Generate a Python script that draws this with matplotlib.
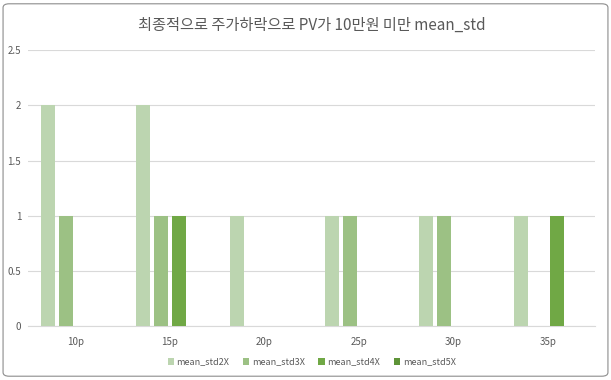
import numpy as np
import matplotlib.pyplot as plt
from matplotlib.patches import FancyBboxPatch

plt.rcParams['font.family'] = ['Noto Sans CJK KR', 'DejaVu Sans']

categories = ['10p', '15p', '20p', '25p', '30p', '35p']
series_names = ['mean_std2X', 'mean_std3X', 'mean_std4X', 'mean_std5X']
std2x = [2, 2, 1, 1, 1, 1]
std3x = [1, 1, 0, 1, 1, 0]
std4x = [0, 1, 0, 0, 0, 1]
std5x = [0, 0, 0, 0, 0, 0]
colors = ['#bcd5b0', '#9cc184', '#70a845', '#5e9438']

fig = plt.figure(figsize=(6.11, 3.80), dpi=100)
ax = fig.add_axes([0.046, 0.142, 0.928, 0.726])

x = np.arange(len(categories))
step = 0.19
width = 0.148
for i, (vals, name) in enumerate(zip([std2x, std3x, std4x, std5x], series_names)):
    ax.bar(x + (i - 1.5) * step, vals, width, color=colors[i], label=name, zorder=3)

ax.set_xlim(-0.5, len(categories) - 0.5)
ax.set_ylim(0, 2.5)
ax.set_yticks([0, 0.5, 1, 1.5, 2, 2.5])
ax.set_yticklabels(['0', '0.5', '1', '1.5', '2', '2.5'])
ax.set_xticks(x)
ax.set_xticklabels(categories)
ax.grid(axis='y', color='#d9d9d9', linewidth=0.8, zorder=0)
for s in ['top', 'right', 'left']:
    ax.spines[s].set_visible(False)
ax.spines['bottom'].set_color('#d9d9d9')
ax.tick_params(axis='both', length=0, labelsize=7, colors='#595959', pad=8)
ax.tick_params(axis='y', pad=5)

ax.set_title('최종적으로 주가하락으로 PV가 10만원 미만 mean_std', fontsize=11,
             color='#595959', pad=15)

ax.legend(loc='upper center', bbox_to_anchor=(0.5, -0.085), ncol=4, frameon=False,
          fontsize=6.5, handlelength=0.7, handleheight=0.7, columnspacing=1.5,
          handletextpad=0.3, labelcolor='#595959')

frame = FancyBboxPatch((0.005, 0.01), 0.99, 0.98, boxstyle='round,pad=0,rounding_size=0.01',
                       transform=fig.transFigure, fill=False, edgecolor='#8c8c8c', linewidth=0.8)
fig.patches.append(frame)

fig.savefig('out.png', dpi=100)
